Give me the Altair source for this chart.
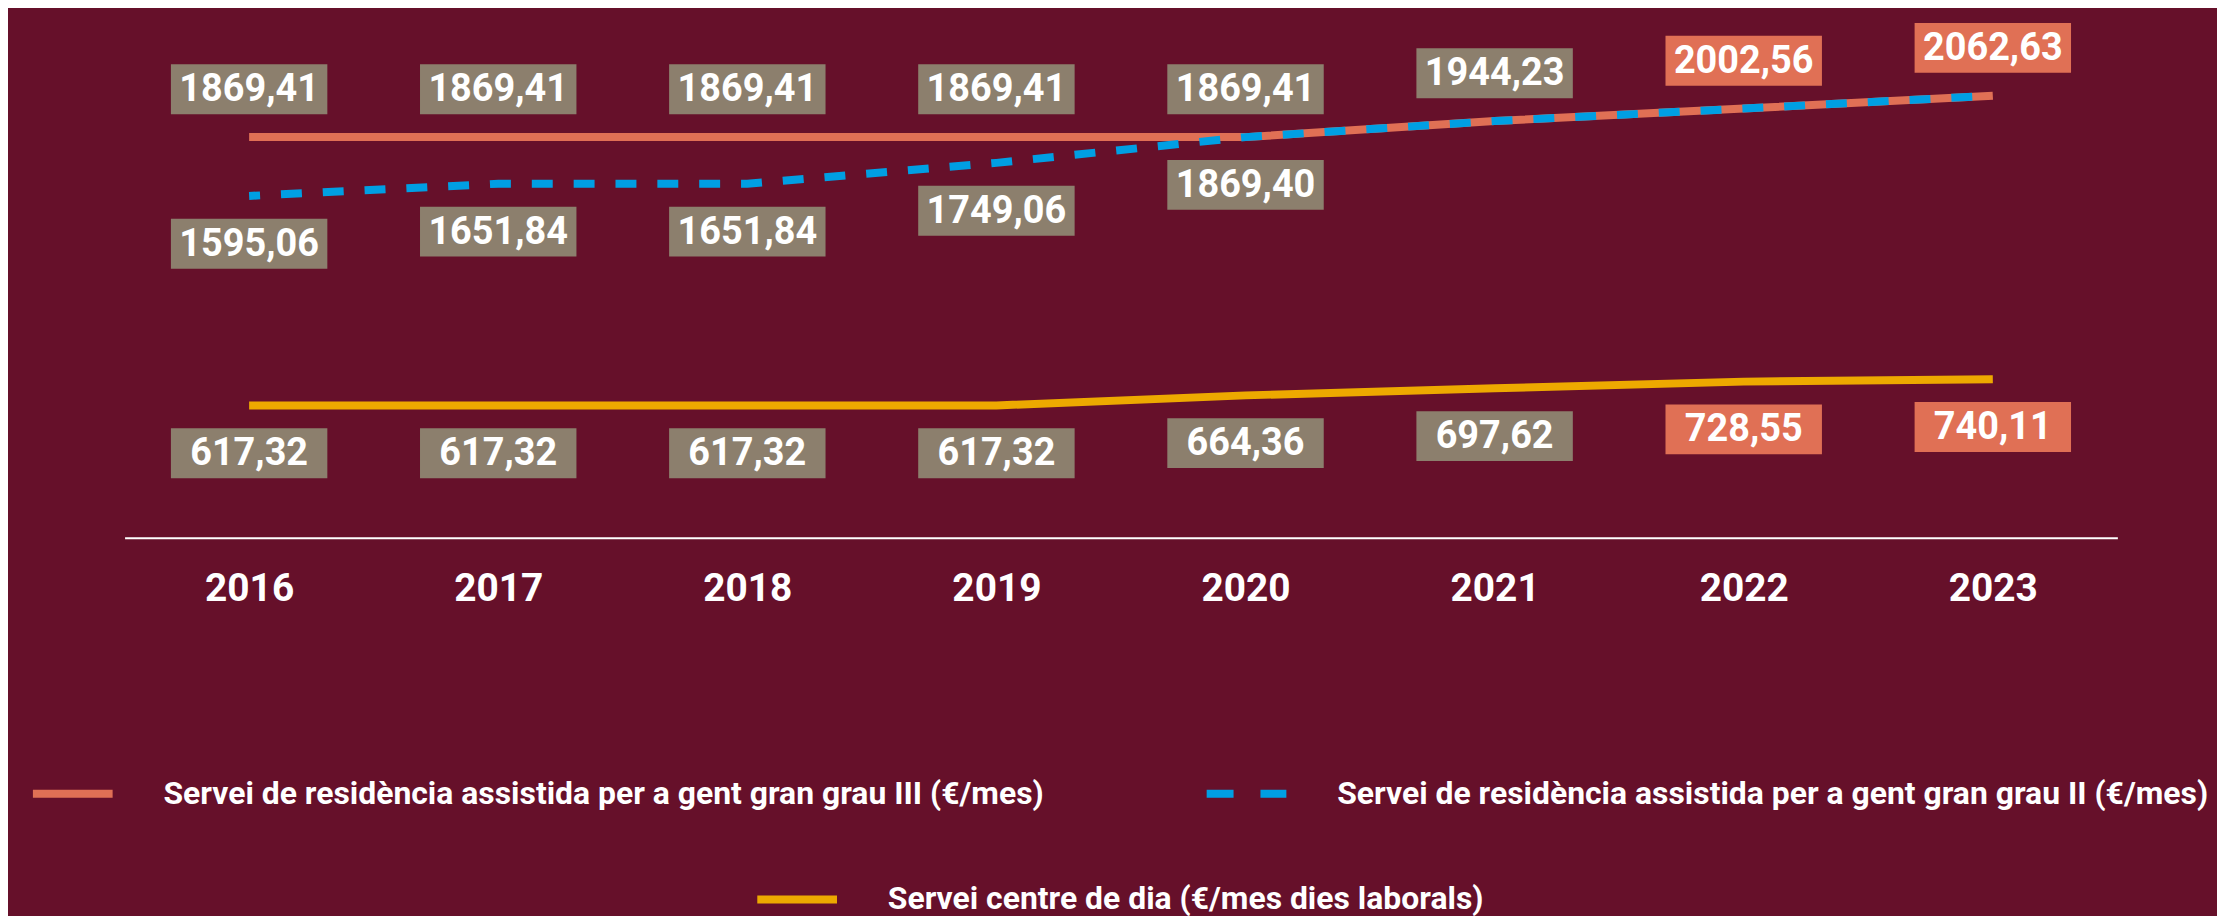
import altair as alt
import pandas as pd

years = ["2016", "2017", "2018", "2019", "2020", "2021", "2022", "2023"]
grau3 = [1869.41, 1869.41, 1869.41, 1869.41, 1869.41, 1944.23, 2002.56, 2062.63]
grau2 = [1595.06, 1651.84, 1651.84, 1749.06, 1869.40, 1944.23, 2002.56, 2062.63]
centre = [617.32, 617.32, 617.32, 617.32, 664.36, 697.62, 728.55, 740.11]
grau3_label_years = years
grau2_label_years = ["2016", "2017", "2018", "2019", "2020"]
centre_label_years = years
highlight_years = ["2022", "2023"]

name_g3 = "Servei de residència assistida per a gent gran grau III (€/mes)"
name_g2 = "Servei de residència assistida per a gent gran grau II (€/mes)"
name_cd = "Servei centre de dia (€/mes dies laborals)"

BG = "#66102A"
ORANGE = "#E07055"
BLUE = "#009FE3"
YELLOW = "#EDA900"
GRAY = "#8C7F6D"
FONT = "Roboto"


def fmt(v):
    return f"{v:.2f}".replace(".", ",")


def frame(name, vals, label_years):
    return pd.DataFrame({
        "year": years,
        "value": vals,
        "series": name,
        "label": [fmt(v) for v in vals],
        "show": [y in label_years for y in years],
        "hl": [y in highlight_years for y in years],
    })


d3 = frame(name_g3, grau3, grau3_label_years)
d2 = frame(name_g2, grau2, grau2_label_years)
dc = frame(name_cd, centre, centre_label_years)

x_enc = alt.X(
    "year:O",
    scale=alt.Scale(type="point", padding=0.5),
    axis=alt.Axis(
        title=None, labelAngle=0, ticks=False, tickSize=0, grid=False,
        labelFont=FONT, labelFontWeight="bold", labelFontSize=39,
        labelColor="white", labelBaseline="middle", labelPadding=51,
        domainColor="white", domainWidth=2,
    ),
)
y_enc = alt.Y("value:Q", scale=alt.Scale(domain=[0, 2450], nice=False, zero=True), axis=None)


def legend(lx, ly, dash=None):
    kw = dict(
        title=None, orient="none", legendX=lx, legendY=ly,
        symbolType="stroke", symbolSize=6400, symbolStrokeWidth=8,
        labelFont=FONT, labelFontWeight="bold", labelFontSize=32,
        labelColor="white", labelLimit=3000, labelOffset=47, padding=0,
    )
    if dash:
        kw["symbolDash"] = dash
    return alt.Legend(**kw)


def line(df, color, lg, **mk):
    return alt.Chart(df).mark_line(strokeWidth=8, strokeCap="butt", **mk).encode(
        x=x_enc, y=y_enc,
        color=alt.Color("series:N", scale=alt.Scale(domain=[df["series"][0]], range=[color]), legend=lg),
    )


BOX_PATH = "M-1,-0.3185L1,-0.3185L1,0.3185L-1,0.3185Z"


def labels(df, off):
    base = alt.Chart(df).transform_filter("datum.show").encode(x=x_enc, y=y_enc)
    box = base.mark_point(
        shape=BOX_PATH, size=157 * 157, filled=True, opacity=1, strokeWidth=0, yOffset=off
    ).encode(fill=alt.condition("datum.hl", alt.value(ORANGE), alt.value(GRAY)))
    txt = base.mark_text(
        font=FONT, fontWeight="bold", fontSize=38, color="white",
        baseline="middle", align="center", yOffset=off + 1,
    ).encode(text="label:N")
    return [box, txt]


l3 = line(d3, ORANGE, legend(-96, 740))
lc = line(dc, YELLOW, legend(631, 846))
l2 = line(d2, BLUE, legend(1082, 740, [27, 27]), strokeDash=[21, 21], strokeDashOffset=10)

chart = alt.layer(
    l3, lc, l2,
    *labels(d3, -48), *labels(d2, 48), *labels(dc, 48),
).resolve_scale(color="independent").properties(
    width=2000, height=527,
    autosize=alt.AutoSizeParams(type="none"),
    padding={"left": 117, "top": 3, "right": 100, "bottom": 400},
    background=BG,
).configure_view(stroke=None)

chart.save("out.html", embed_options={"renderer": "svg", "actions": False})
